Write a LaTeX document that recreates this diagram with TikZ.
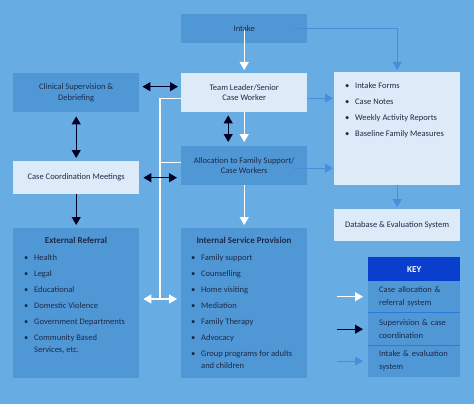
\documentclass[tikz,border=0pt]{standalone}
\usepackage{fontspec}
\setmainfont{Carlito}
\usetikzlibrary{arrows.meta,positioning}
\definecolor{bgc}{RGB}{104,172,228}
\definecolor{darkbox}{RGB}{80,151,214}
\definecolor{lightbox}{RGB}{221,234,247}
\definecolor{keyhead}{RGB}{10,62,204}
\definecolor{sepc}{RGB}{42,122,226}
\definecolor{intakec}{RGB}{72,142,216}
\definecolor{txt}{RGB}{28,42,72}
\tikzset{
  tip/.tip={Triangle[width=9pt,length=8pt]},
  dbox/.style={draw=none,fill=darkbox,anchor=north west,inner sep=0pt,text=txt,align=center,font=\fontsize{8.5}{10.5}\selectfont},
  lbox/.style={dbox,fill=lightbox},
  keyrow/.style={dbox,minimum width=92pt,minimum height=32pt,align=left,text width=82pt,font=\fontsize{8.5}{13}\selectfont},
  listtxt/.style={anchor=north west,inner sep=0pt,text=txt,align=left,font=\fontsize{8.5}{16}\selectfont},
  head/.style={anchor=center,inner sep=0pt,text=txt,font=\bfseries\fontsize{9}{11}\selectfont},
  wa/.style={draw=white,line width=1.2pt,-tip},
  wd/.style={draw=white,line width=1.2pt,tip-tip},
  wl/.style={draw=white,line width=1.2pt},
  ka/.style={draw=black!85!blue,line width=1.2pt,-tip},
  kd/.style={draw=black!85!blue,line width=1.2pt,tip-tip},
  ba/.style={draw=intakec,line width=1pt,-tip},
}
\newcommand{\bul}{\makebox[10pt][l]{\textbullet}}
\begin{document}
\begin{tikzpicture}[x=1pt,y=-1pt]
\fill[bgc] (0,0) rectangle (474,404);
\useasboundingbox (0,0) rectangle (474,404);

% boxes
\node[dbox,minimum width=126pt,minimum height=29pt] (intake) at (181,14) {Intake};
\node[dbox,minimum width=126pt,minimum height=39pt] (clin) at (13,73) {Clinical Supervision \&\\Debriefing};
\node[lbox,minimum width=126pt,minimum height=39pt] (team) at (181,73) {Team Leader/Senior\\Case Worker};
\node[lbox,minimum width=126pt,minimum height=113pt] (info) at (334,72) {};
\node[lbox,minimum width=126pt,minimum height=33pt] (coord) at (13,161) {Case Coordination Meetings};
\node[dbox,minimum width=126pt,minimum height=39pt] (alloc) at (181,146) {Allocation to Family Support/\\Case Workers};
\node[lbox,minimum width=126pt,minimum height=32pt] (db) at (334,209) {Database \& Evaluation System};
\node[dbox,minimum width=126pt,minimum height=150pt] (ext) at (13,228) {};
\node[dbox,minimum width=126pt,minimum height=150pt] (int) at (181,228) {};

% list texts
\node[listtxt] (infotxt) at (345,82) {\bul Intake Forms\\\bul Case Notes\\\bul Weekly Activity Reports\\\bul Baseline Family Measures};
\node[head] (exthead) at (76,240) {External Referral};
\node[listtxt] (exttxt) at (24,254) {\bul Health\\\bul Legal\\\bul Educational\\\bul Domestic Violence\\\bul Government Departments\\\bul Community Based\\[-4pt]\hspace*{10pt}Services, etc.};
\node[head] (inthead) at (244,240) {Internal Service Provision};
\node[listtxt] (inttxt) at (191,254) {\bul Family support\\\bul Counselling\\\bul Home visiting\\\bul Mediation\\\bul Family Therapy\\\bul Advocacy\\\bul Group programs for adults\\[-4pt]\hspace*{10pt}and children};

% key
\node[draw=none,fill=keyhead,anchor=north west,minimum width=92pt,minimum height=24pt,inner sep=0pt,text=white,font=\bfseries\fontsize{9}{11}\selectfont] (keyh) at (368,257) {KEY};
\node[keyrow,minimum height=31pt] (k1) at (368,281) {\hspace*{6pt}Case allocation \&\\\hspace*{6pt}referral system};
\node[keyrow] (k2) at (368,313) {\hspace*{6pt}Supervision \& case\\\hspace*{6pt}coordination};
\node[keyrow] (k3) at (368,345) {\hspace*{6pt}Intake \& evaluation\\\hspace*{6pt}system};
\draw[sepc,line width=1.3pt] (k1.south west) -- (k1.south east);
\draw[sepc,line width=1.3pt] (k2.south west) -- (k2.south east);
\draw[wa] ([xshift=-31pt]k1.west) -- ([xshift=-5pt]k1.west);
\draw[ka] ([xshift=-31pt]k2.west) -- ([xshift=-5pt]k2.west);
\draw[ba] ([xshift=-31pt]k3.west) -- ([xshift=-5pt]k3.west);

% white system
\coordinate (junc) at (160,299);
\draw[wl] ([yshift=-5.5pt]team.west) -| (junc);
\draw[wl] ([yshift=3.5pt]alloc.west) -| (junc);
\draw[wd] ([xshift=4pt]ext.east |- junc) -- ([xshift=-4pt]int.west |- junc);
\draw[wa] ([yshift=-1.5pt]intake.center) -- ([yshift=3pt]team.north);
\draw[wa] (team.south) -- ([yshift=4pt]alloc.north);
\draw[wa] (alloc.south) -- ([yshift=3pt]int.north);

% black supervision
\draw[kd] ([xshift=3pt,yshift=6pt]clin.east) -- ([xshift=-3pt,yshift=6pt]clin.east -| team.west);
\draw[kd] ([yshift=-4pt]clin.south) -- ([yshift=3pt]coord.north);
\draw[kd] ([xshift=4pt]coord.east) -- ([xshift=-4pt]coord.east -| alloc.west);
\draw[ka] (coord.south) -- ([yshift=3pt]ext.north);
\draw[kd] ([xshift=-16pt,yshift=-3pt]team.south) -- ([xshift=-16pt,yshift=4pt]alloc.north);

% intake & evaluation
\draw[ba] ([xshift=-13pt]intake.east) -| ([yshift=2pt]info.north);
\draw[ba] ([yshift=-5.5pt]team.east) -- ([xshift=-1pt,yshift=-5.5pt]team.east -| info.west);
\draw[ba] ([xshift=-14pt,yshift=-2.5pt]alloc.east) -- ([xshift=-1pt,yshift=-2.5pt]alloc.east -| info.west);
\draw[ba] (info.south) -- ([yshift=2pt]db.north);
\end{tikzpicture}
\end{document}
